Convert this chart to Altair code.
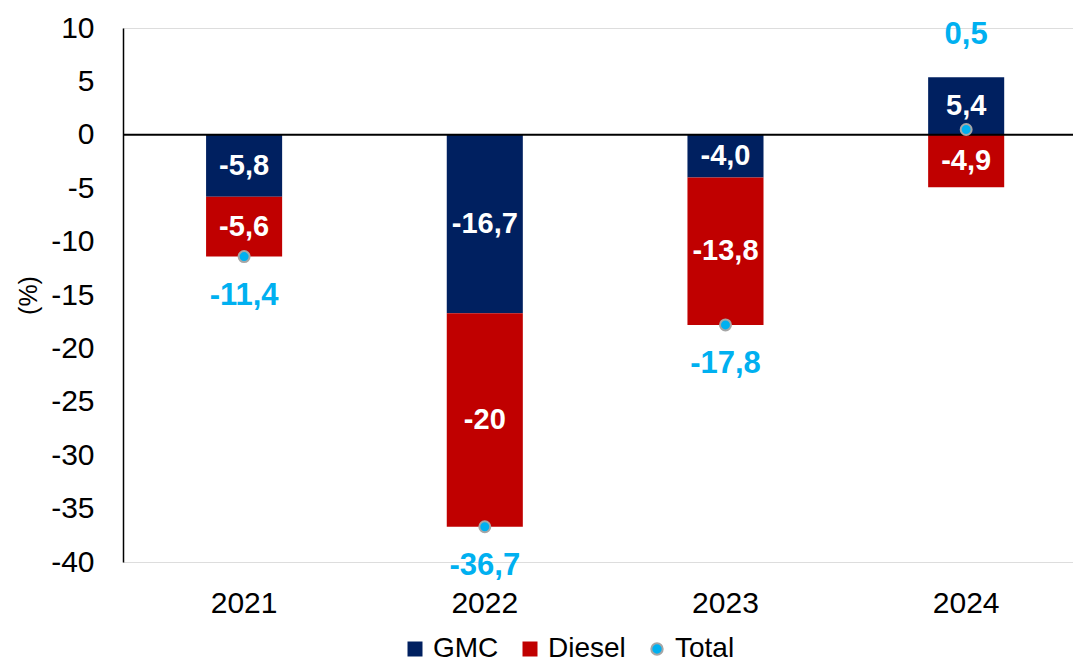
import altair as alt
import pandas as pd

years = ["2021", "2022", "2023", "2024"]
gmc = [-5.8, -16.7, -4.0, 5.4]
diesel = [-5.6, -20.0, -13.8, -4.9]
total = [-11.4, -36.7, -17.8, 0.5]
gmc_lbl = ["-5,8", "-16,7", "-4,0", "5,4"]
diesel_lbl = ["-5,6", "-20", "-13,8", "-4,9"]
total_lbl = ["-11,4", "-36,7", "-17,8", "0,5"]
y_ticks = list(range(-40, 11, 5))
series_names = ["GMC", "Diesel", "Total"]
series_colors = ["#002060", "#C00000", "#00B0F0"]

rows = []
tops = []
for i, yr in enumerate(years):
    pos, neg = 0.0, 0.0
    for s, vals, lbls in (("GMC", gmc, gmc_lbl), ("Diesel", diesel, diesel_lbl)):
        v = vals[i]
        if v >= 0:
            start = pos
            pos += v
        else:
            start = neg
            neg += v
        rows.append(dict(year=yr, series=s, start=start, end=start + v,
                         mid=start + v / 2, label=lbls[i]))
    tops.append(pos)
seg = pd.DataFrame(rows)

tot = pd.DataFrame({
    "year": years,
    "series": ["Total"] * len(years),
    "total": total,
    "label": total_lbl,
    "anchor": [t if t < 0 else top for t, top in zip(total, tops)],
})
zero = pd.DataFrame({"v": [0]})

FONT = "Liberation Sans"

x_enc = alt.X("year:N", title=None,
              scale=alt.Scale(paddingInner=0.684, paddingOuter=0.3155, align=0.547),
              axis=alt.Axis(domain=False, ticks=False, labelFontSize=30, labelColor="black",
                            labelPadding=26, labelAngle=0, labelFont=FONT))
y_scale = alt.Scale(domain=[-40, 10], nice=False, zero=False)

color_enc = alt.Color(
    "series:N",
    scale=alt.Scale(domain=series_names, range=series_colors),
    legend=alt.Legend(
        title=None, orient="none", direction="horizontal", legendX=278, legendY=607,
        labelFontSize=28, labelFont=FONT, labelColor="black", labelOffset=4,
        columnPadding=17, padding=0, symbolOpacity=1,
        symbolType=alt.ExprRef(expr="datum.value === 'Total' ? 'circle' : 'square'"),
        symbolSize=alt.ExprRef(expr="datum.value === 'Total' ? 130 : 225"),
        symbolStrokeColor=alt.ExprRef(expr="datum.value === 'Total' ? '#A6A6A6' : 'transparent'"),
        symbolStrokeWidth=alt.ExprRef(expr="datum.value === 'Total' ? 2 : 0"),
    ),
)

bars = alt.Chart(seg).mark_bar().encode(
    x=x_enc,
    y=alt.Y("start:Q", scale=y_scale, title="(%)",
            axis=alt.Axis(values=y_ticks, grid=False, ticks=False, domainColor="black",
                          domainWidth=1.5, labelFontSize=30, labelColor="black",
                          labelFont=FONT, labelPadding=29, labelExpr="datum.value + ''",
                          titleFontSize=25, titleFont=FONT, titleFontWeight="normal",
                          titleColor="black", titlePadding=9)),
    y2="end:Q",
    color=color_enc,
)

zero_rule = alt.Chart(zero).mark_rule(color="black", strokeWidth=2).encode(
    y=alt.Y("v:Q", scale=y_scale)
)

seg_text = alt.Chart(seg).mark_text(
    color="white", fontWeight="bold", fontSize=29, font=FONT, baseline="middle"
).encode(x=x_enc, y=alt.Y("mid:Q", scale=y_scale), text="label:N")

points = alt.Chart(tot).mark_point(
    filled=True, size=120, stroke="#A6A6A6", strokeWidth=2, opacity=1
).encode(x=x_enc, y=alt.Y("total:Q", scale=y_scale), color=color_enc)

tot_neg = alt.Chart(tot).transform_filter("datum.total < 0").mark_text(
    color="#00B0F0", fontWeight="bold", fontSize=31, font=FONT, baseline="middle", dy=39
).encode(x=x_enc, y=alt.Y("anchor:Q", scale=y_scale), text="label:N")

tot_pos = alt.Chart(tot).transform_filter("datum.total >= 0").mark_text(
    color="#00B0F0", fontWeight="bold", fontSize=31, font=FONT, baseline="middle", dy=-42
).encode(x=x_enc, y=alt.Y("anchor:Q", scale=y_scale), text="label:N")

chart = alt.layer(bars, zero_rule, seg_text, points, tot_neg, tot_pos).properties(
    width=950, height=534,
    autosize=alt.AutoSizeParams(type="none"),
    padding={"left": 115, "top": 20, "right": 0, "bottom": 100},
).configure_view(stroke=None).configure(font=FONT)

chart.save("out.html", embed_options={"renderer": "svg", "actions": False})
